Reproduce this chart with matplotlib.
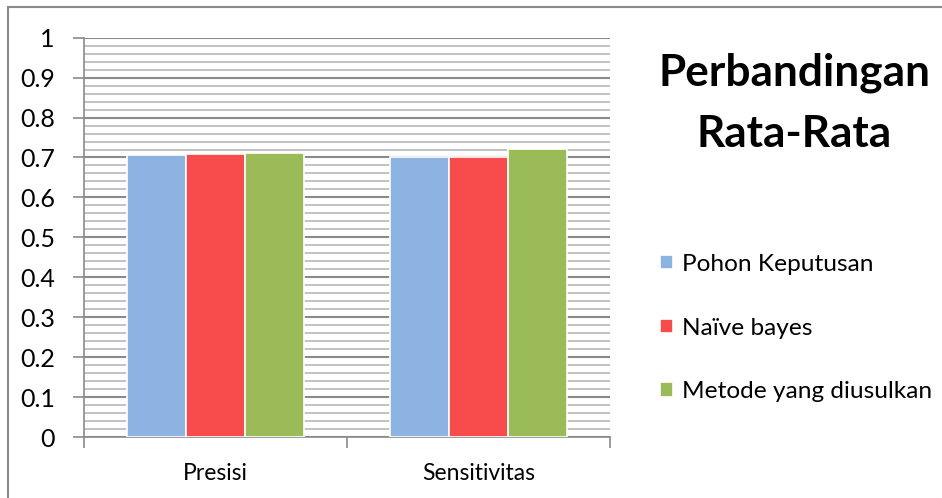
import matplotlib
matplotlib.use("Agg")
import matplotlib.pyplot as plt
import numpy as np
from matplotlib.lines import Line2D
from matplotlib.ticker import MultipleLocator

categories = ["Presisi", "Sensitivitas"]
series_names = ["Pohon Keputusan", "Naïve bayes", "Metode yang diusulkan"]
pohon_keputusan = [0.707, 0.702]
naive_bayes = [0.709, 0.701]
metode_usulan = [0.710, 0.722]
y_ticks = [0, 0.1, 0.2, 0.3, 0.4, 0.5, 0.6, 0.7, 0.8, 0.9, 1]
y_tick_labels = ["0", "0.1", "0.2", "0.3", "0.4", "0.5", "0.6", "0.7", "0.8", "0.9", "1"]

colors = ["#8DB3E2", "#F84B4B", "#9BBB59"]
FONT = "Lato"
plt.rcParams["font.family"] = [FONT, "DejaVu Sans"]

fig = plt.figure(figsize=(9.42, 4.98), dpi=100)
ax = fig.add_axes([84/942, 1-437/498, (610-84)/942, (437-37.7)/498])

x = np.arange(len(categories))
w = 0.2243
all_series = [pohon_keputusan, naive_bayes, metode_usulan]
bars = []
for i, (vals, name, c) in enumerate(zip(all_series, series_names, colors)):
    b = ax.bar(x + (i-1)*w, vals, width=w, color=c, edgecolor="white",
               linewidth=1.2, label=name, zorder=3)
    bars.append(b)

ax.set_xlim(-0.5, 1.5)
ax.set_ylim(0, 1)
ax.set_yticks(y_ticks)
ax.set_yticklabels(y_tick_labels)
ax.yaxis.set_minor_locator(MultipleLocator(0.02))
ax.grid(which="minor", axis="y", color="#BDBDBD", linewidth=1.3, zorder=0)
ax.grid(which="major", axis="y", color="#8A8A8A", linewidth=1.5, zorder=1)
ax.tick_params(axis="y", which="minor", length=0)
ax.tick_params(axis="y", which="major", length=8, width=1.2, color="#8A8A8A",
               labelsize=18, pad=13)

# x ticks at category boundaries, labels at centers
ax.set_xticks([-0.5, 0.5, 1.5])
ax.set_xticklabels([])
ax.set_xticks(x, minor=True)
ax.set_xticklabels(categories, minor=True)
ax.tick_params(axis="x", which="major", length=8, width=1.2, color="#8A8A8A",
               direction="out")
ax.tick_params(axis="x", which="minor", length=0, labelsize=16.5, pad=19)

for s in ["top", "right"]:
    ax.spines[s].set_visible(False)
for s in ["left", "bottom"]:
    ax.spines[s].set_color("#8A8A8A")
    ax.spines[s].set_linewidth(1.2)

fig.text(794/942, 1-73/498, "Perbandingan", ha="center", va="center",
         fontsize=31.8, fontweight="bold")
fig.text(794/942, 1-134/498, "Rata-Rata", ha="center", va="center",
         fontsize=31.8, fontweight="bold")

fig.legend(handles=bars, labels=series_names, loc="upper left",
           bbox_to_anchor=(650/942, 1-244/498), frameon=False,
           fontsize=17.6, handlelength=0.55, handleheight=0.55,
           handletextpad=0.35, labelspacing=1.75, borderaxespad=0)

# outer frame (top and left visible)
fig.add_artist(Line2D([8/942, 8/942], [0, 1-7/498], transform=fig.transFigure,
                      color="#8A8A8A", linewidth=1.5))
fig.add_artist(Line2D([8/942, 1], [1-7/498, 1-7/498], transform=fig.transFigure,
                      color="#8A8A8A", linewidth=1.5))

fig.savefig("out.png", dpi=100, facecolor="white")
